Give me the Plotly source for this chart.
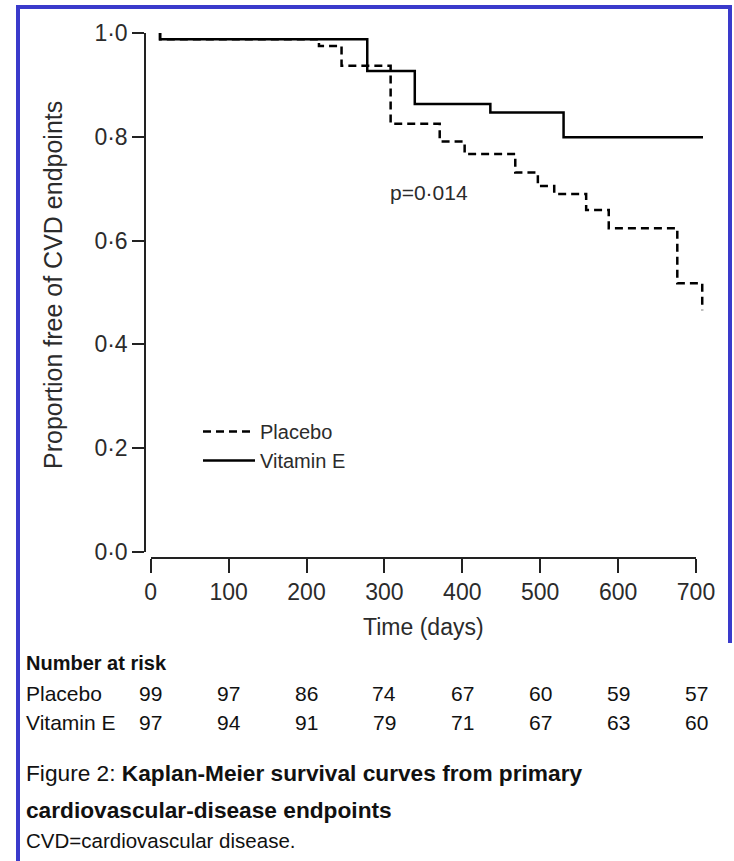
import plotly.graph_objects as go

# ---- data ----
placebo_days = [12, 12, 216, 245, 308, 371, 403, 468, 497, 518, 559, 588, 676, 708]
placebo_surv = [1.0, 0.988, 0.975, 0.937, 0.825, 0.791, 0.767, 0.731, 0.705, 0.690, 0.659, 0.624, 0.518, 0.466]
vite_days = [12, 12, 278, 339, 436, 530, 709]
vite_surv = [1.0, 0.988, 0.927, 0.863, 0.847, 0.799, 0.799]

risk_days = [0, 100, 200, 300, 400, 500, 600, 700]
risk_placebo = [99, 97, 86, 74, 67, 60, 59, 57]
risk_vite = [97, 94, 91, 79, 71, 67, 63, 60]

y_tickvals = [0.0, 0.2, 0.4, 0.6, 0.8, 1.0]
y_ticktext = ["0·0", "0·2", "0·4", "0·6", "0·8", "1·0"]

W, H = 734, 861
def PX(px):
    return px / W
def PY(py):
    return 1 - py / H

FONT = "Liberation Sans, Arial, sans-serif"
TXT = "#2b2b2b"
DARK = "#111111"

fig = go.Figure()
fig.add_trace(go.Scatter(x=placebo_days, y=placebo_surv, mode="lines", name="Placebo",
                         line=dict(color="black", width=2.5, dash="8px,5px", shape="hv"),
                         hoverinfo="skip"))
fig.add_trace(go.Scatter(x=vite_days, y=vite_surv, mode="lines", name="Vitamin E",
                         line=dict(color="black", width=2.5, shape="hv"),
                         hoverinfo="skip"))
# carrier for the offset time axis
fig.add_trace(go.Scatter(x=[risk_days[0], risk_days[-1]], y=[None, None], xaxis="x2", yaxis="y",
                         mode="lines", showlegend=False, hoverinfo="skip"))

x0px, x700px = 150.7, 696.0
scale = (x700px - x0px) / 700.0
left_px, right_px = 146.0, 716.0

fig.update_layout(
    template="none",
    width=W, height=H, margin=dict(l=0, r=0, t=0, b=0, pad=0, autoexpand=False),
    paper_bgcolor="white", plot_bgcolor="rgba(0,0,0,0)",
    font=dict(family=FONT, color=TXT),
    xaxis=dict(domain=[PX(left_px), PX(right_px)],
               range=[(left_px - x0px) / scale, (right_px - x0px) / scale],
               visible=False, fixedrange=True, automargin=False),
    xaxis2=dict(domain=[PX(x0px), PX(x700px)], range=[0, 700], anchor="free",
                position=PY(558), showline=True, linecolor="#222",
                linewidth=1.5, ticks="outside", ticklen=14, tickwidth=1.5, tickcolor="#222",
                tickvals=risk_days, ticktext=[str(d) for d in risk_days],
                tickfont=dict(size=23, color=TXT), showgrid=False, zeroline=False,
                automargin=False, fixedrange=True,
                title=dict(text="Time (days)", font=dict(size=23, color=TXT), standoff=14)),
    yaxis=dict(domain=[PY(552), PY(33)], range=[0, 1.0], showline=True, linecolor="#222",
               linewidth=1.5, ticks="outside", ticklen=12, tickwidth=1.5, tickcolor="#222",
               tickvals=y_tickvals, ticktext=y_ticktext, tickfont=dict(size=23, color=TXT),
               showgrid=False, zeroline=False, fixedrange=True, automargin=False),
    legend=dict(x=PX(198), y=PY(412), xanchor="left", yanchor="top",
                font=dict(size=20, color=TXT), bgcolor="rgba(0,0,0,0)",
                tracegroupgap=0, itemwidth=52),
    showlegend=True,
)

def note(x, y, text, size, color=DARK, xanchor="left", **kw):
    return dict(x=x, y=y, xref="paper", yref="paper", text=text, xanchor=xanchor,
                yanchor="middle", showarrow=False, font=dict(size=size, color=color), **kw)

annotations = [
    note(PX(53), PY(285), "Proportion free of CVD endpoints", 25, TXT, xanchor="center",
         textangle=-90),
    note(PX(429), PY(193), "p=0·014", 21, TXT, xanchor="center"),
    note(PX(24), PY(663), "<b>Number at risk</b>", 20),
    note(PX(24), PY(693), "Placebo", 21),
    note(PX(24), PY(722), "Vitamin E", 21),
    note(PX(24), PY(773), "Figure 2: <b>Kaplan-Meier survival curves from primary</b>", 22.7),
    note(PX(24), PY(810), "<b>cardiovascular-disease endpoints</b>", 22.7),
    note(PX(24), PY(840), "CVD=cardiovascular disease.", 20.5),
]
for d, p, v in zip(risk_days, risk_placebo, risk_vite):
    annotations.append(dict(x=d, y=PY(693), xref="x2", yref="paper", text=str(p),
                            xanchor="center", yanchor="middle",
                            showarrow=False, font=dict(size=21, color=DARK)))
    annotations.append(dict(x=d, y=PY(722), xref="x2", yref="paper", text=str(v),
                            xanchor="center", yanchor="middle",
                            showarrow=False, font=dict(size=21, color=DARK)))
fig.update_layout(annotations=annotations)

BLUE = "#3a3acb"
fig.update_layout(shapes=[
    dict(type="line", xref="paper", yref="paper", x0=PX(18), x1=PX(18), y0=PY(5), y1=0,
         line=dict(color=BLUE, width=4)),
    dict(type="line", xref="paper", yref="paper", x0=PX(16), x1=PX(732), y0=PY(7), y1=PY(7),
         line=dict(color=BLUE, width=4)),
    dict(type="line", xref="paper", yref="paper", x0=PX(730), x1=PX(730), y0=PY(5), y1=PY(643),
         line=dict(color=BLUE, width=4)),
])

fig.write_html("out.html")
